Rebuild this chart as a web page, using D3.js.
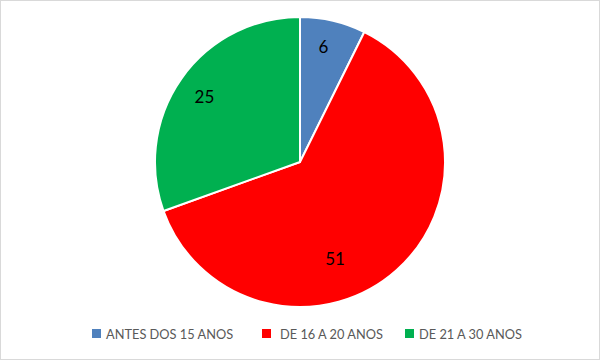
<!DOCTYPE html>
<html>
<head>
<meta charset="utf-8">
<script src="https://cdnjs.cloudflare.com/ajax/libs/d3/7.8.5/d3.min.js"></script>
<style>
  html, body { margin: 0; padding: 0; background: #fff; }
  svg { display: block; }
</style>
</head>
<body>
<svg id="chart" width="600" height="360"></svg>
<script>
const categories = ["ANTES DOS 15 ANOS", "DE 16 A 20 ANOS", "DE 21 A 30 ANOS"];
const values = [6, 51, 25];
const colors = ["#4F81BD", "#FF0000", "#00B050"];

const W = 600, H = 360;
const cx = 300, cy = 162, R = 145;
const labelRadius = [0.81, 0.71, 0.8];
const labelAngleShift = [-0.03, 0.38, -0.01];

const svg = d3.select("#chart");
svg.append("rect").attr("x", 0.5).attr("y", 0.5).attr("width", W - 1).attr("height", H - 1)
  .attr("fill", "#fff").attr("stroke", "#D9D9D9");

const data = categories.map((c, i) => ({ cat: c, value: values[i], color: colors[i], i }));
const pie = d3.pie().value(d => d.value).sort(null);
const arc = d3.arc().innerRadius(0).outerRadius(R);
const arcs = pie(data);

const g = svg.append("g").attr("transform", `translate(${cx},${cy})`);
g.selectAll("path").data(arcs).join("path")
  .attr("d", arc)
  .attr("fill", d => d.data.color)
  .attr("stroke", "#fff")
  .attr("stroke-width", 2)
  .attr("stroke-linejoin", "round");

g.selectAll("text.lbl").data(arcs).join("text")
  .attr("class", "lbl")
  .attr("x", d => {
    const a = (d.startAngle + d.endAngle) / 2 + labelAngleShift[d.data.i];
    return Math.sin(a) * R * labelRadius[d.data.i];
  })
  .attr("y", d => {
    const a = (d.startAngle + d.endAngle) / 2 + labelAngleShift[d.data.i];
    return -Math.cos(a) * R * labelRadius[d.data.i];
  })
  .attr("text-anchor", "middle")
  .attr("dominant-baseline", "central")
  .attr("font-family", "Lato, 'Liberation Sans', sans-serif")
  .attr("font-size", 17)
  .attr("fill", "#000")
  .text(d => d.data.value);

// legend
const legendX = [92, 262, 405];
const legend = svg.append("g");
const items = legend.selectAll("g").data(data).join("g")
  .attr("transform", (d, i) => `translate(${legendX[i]},329)`);
items.append("rect").attr("width", 9).attr("height", 9).attr("fill", d => d.color);
items.append("text")
  .attr("x", (d, i) => i === 1 ? 18 : 14)
  .attr("y", 5)
  .attr("dominant-baseline", "central")
  .attr("font-family", "Lato, 'Liberation Sans', sans-serif")
  .attr("font-size", 12.8)
  .attr("fill", "#595959")
  .text(d => d.cat);
</script>
</body>
</html>
